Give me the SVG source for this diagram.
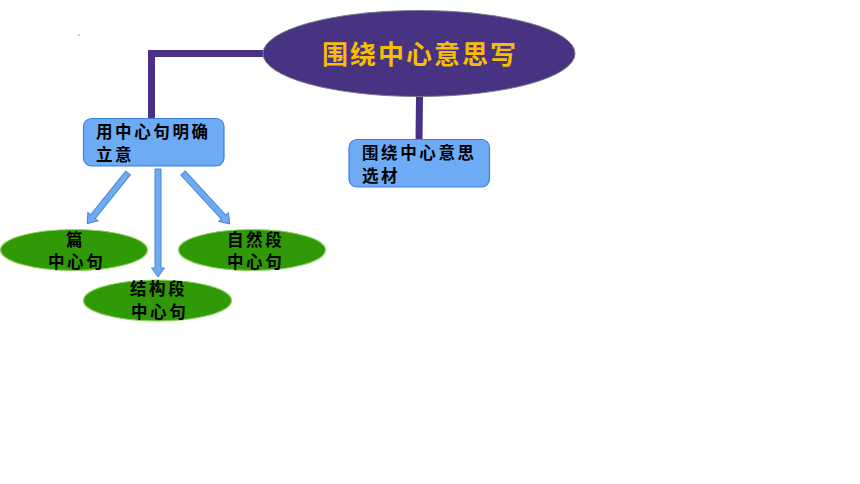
<svg xmlns="http://www.w3.org/2000/svg" width="860" height="484" viewBox="0 0 860 484">
<style>
.conn{fill:none;stroke:#4A3185;stroke-width:7}
.box{fill:#6DABF5;stroke:#3A7FE0;stroke-width:1.2}
.leaf{fill:#2F9A06;stroke:#8FD060;stroke-width:1.2}
.arr{fill:#6DABF5;stroke:#4A86D0;stroke-width:1}
.t{font-family:"Noto Sans CJK SC","Noto Sans",sans-serif;font-weight:bold;font-size:16.5px;letter-spacing:2.6px;fill:#000}
.title{font-family:"Noto Sans CJK SC","Noto Sans",sans-serif;font-weight:bold;font-size:26px;letter-spacing:2px;fill:#F5BE00}
</style>
<rect width="860" height="484" fill="#fff"/>
<circle cx="79" cy="35" r="0.8" fill="#888"/>
<g id="connectors">
<path class="conn" d="M264,53.5 H151.5 V121"/>
<path class="conn" d="M419.5,96 L419,140"/>
<path class="arr" transform="translate(128,173) rotate(38.8)" d="M-3,0 L3,0 L3,56 L6.5,56 L0,65 L-6.5,56 L-3,56 Z"/>
<path class="arr" transform="translate(158,169)" d="M-3,0 L3,0 L3,99 L6.5,99 L0,108 L-6.5,99 L-3,99 Z"/>
<path class="arr" transform="translate(183,173) rotate(-42.6)" d="M-3,0 L3,0 L3,60 L6.5,60 L0,69 L-6.5,60 L-3,60 Z"/>
</g>
<g id="main">
<ellipse cx="419" cy="53.5" rx="156" ry="43" fill="#483282" stroke="#7a7a8a" stroke-width="1"/>
<text class="title" x="322" y="64">围绕中心意思写</text>
</g>
<g id="box1">
<rect class="box" x="83.5" y="118.5" width="140.5" height="47.5" rx="8"/>
<text class="t" x="96" y="137.5">用中心句明确</text>
<text class="t" x="96" y="160.5">立意</text>
</g>
<g id="box2">
<rect class="box" x="349" y="139.5" width="140.5" height="47.5" rx="8"/>
<text class="t" x="362" y="159">围绕中心意思</text>
<text class="t" x="362" y="182">选材</text>
</g>
<g id="leaf1">
<ellipse class="leaf" cx="74" cy="250" rx="73.5" ry="20.5"/>
<text class="t" x="66" y="246">篇</text>
<text class="t" x="48" y="268">中心句</text>
</g>
<g id="leaf2">
<ellipse class="leaf" cx="252" cy="250" rx="73.5" ry="20.5"/>
<text class="t" x="227" y="246">自然段</text>
<text class="t" x="227" y="268">中心句</text>
</g>
<g id="leaf3">
<ellipse class="leaf" cx="157.5" cy="300.5" rx="74" ry="20.5"/>
<text class="t" x="130" y="295">结构段</text>
<text class="t" x="131" y="318">中心句</text>
</g>
</svg>
